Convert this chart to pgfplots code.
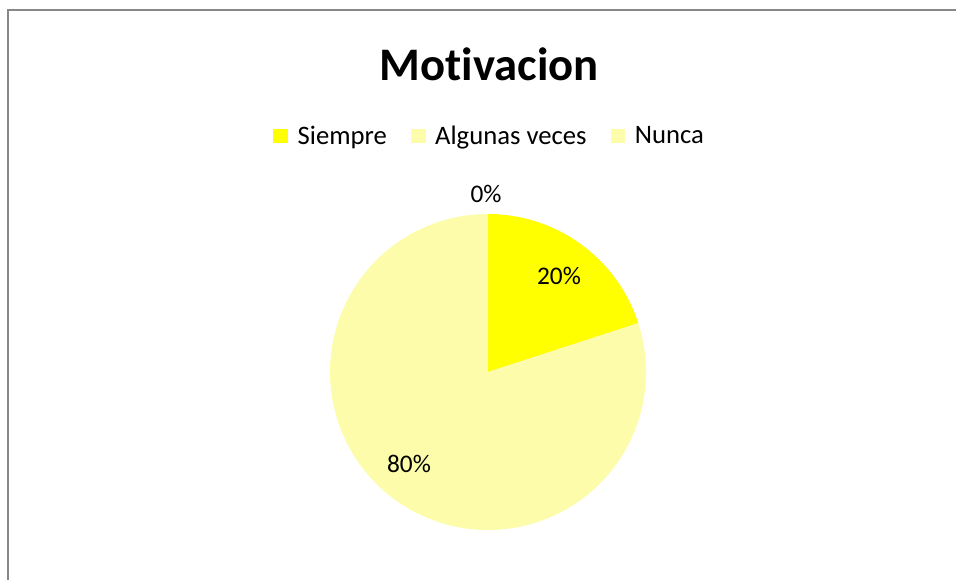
\documentclass[border=0pt]{standalone}
\usepackage{fontspec}
\setmainfont{Carlito}[Ligatures={NoCommon}]
\usepackage{pgfplots}
\usepackage{pgfplotstable}
\pgfplotsset{compat=1.18}

\definecolor{siempre}{HTML}{FFFF00}
\definecolor{algunas}{HTML}{FCFCAA}
\definecolor{nunca}{HTML}{FCFCAA}
\definecolor{frame}{HTML}{888888}

% share of answers, in percent
\pgfplotstableread{
label   value
Siempre 20
Algunas 80
Nunca   0
}\motivacion

\begin{document}
\begin{tikzpicture}
% 1 axis unit = 1 px of the 956x580 reference
\begin{axis}[
    name=ax,
    hide axis,
    scale only axis,
    width=717pt, height=435pt,
    xmin=0, xmax=956, ymin=0, ymax=580,
    clip=false,
    legend columns=3,
    legend style={
        draw=none, fill=none,
        font=\fontsize{20}{24}\selectfont,
        at={(axis cs:490,444)}, anchor=center,
        /tikz/every odd column/.append style={column sep=5pt},
        /tikz/every even column/.append style={column sep=16pt},
        inner sep=0pt,
    },
    legend image code/.code={
        \fill[#1, draw=none] (0pt,-5.6pt) rectangle (11.2pt,5.6pt);
    },
]
% frame of the chart area
\draw[frame, line width=1.5pt] (axis cs:7.5,0) -- (axis cs:7.5,570) -- (axis cs:956,570);

% title
\node[anchor=base, font=\fontsize{35}{40}\selectfont\bfseries]
    at (axis cs:489,499) {Motivacion};

% legend
\addlegendimage{fill=siempre, draw=none}
\addlegendentry{Siempre}
\addlegendimage{fill=algunas, draw=none}
\addlegendentry{Algunas veces}
\addlegendimage{fill=nunca, draw=none}
\addlegendentry{Nunca}

% pie slices, clockwise from the top
\pgfplotstablegetelem{0}{value}\of\motivacion \let\vA\pgfplotsretval
\pgfplotstablegetelem{1}{value}\of\motivacion \let\vB\pgfplotsretval
\pgfplotstablegetelem{2}{value}\of\motivacion \let\vC\pgfplotsretval
\pgfmathsetmacro{\aA}{90}
\pgfmathsetmacro{\aB}{90-3.6*\vA}
\pgfmathsetmacro{\aC}{\aB-3.6*\vB}
\pgfmathsetmacro{\aD}{\aC-3.6*\vC}
\def\R{118.5pt}
\fill[siempre] (axis cs:488,208) -- ++(\aA:\R) arc[start angle=\aA, end angle=\aB, radius=\R] -- cycle;
\fill[algunas] (axis cs:488,208) -- ++(\aB:\R) arc[start angle=\aB, end angle=\aC, radius=\R] -- cycle;

% data labels
\node[font=\fontsize{19}{22}\selectfont] at (axis cs:559,304) {20\%};
\node[font=\fontsize{19}{22}\selectfont] at (axis cs:409,116) {80\%};
\node[font=\fontsize{19}{22}\selectfont] at (axis cs:486,386) {0\%};
\end{axis}
\pgfresetboundingbox
\useasboundingbox (ax.south west) rectangle (ax.north east);
\end{tikzpicture}
\end{document}
